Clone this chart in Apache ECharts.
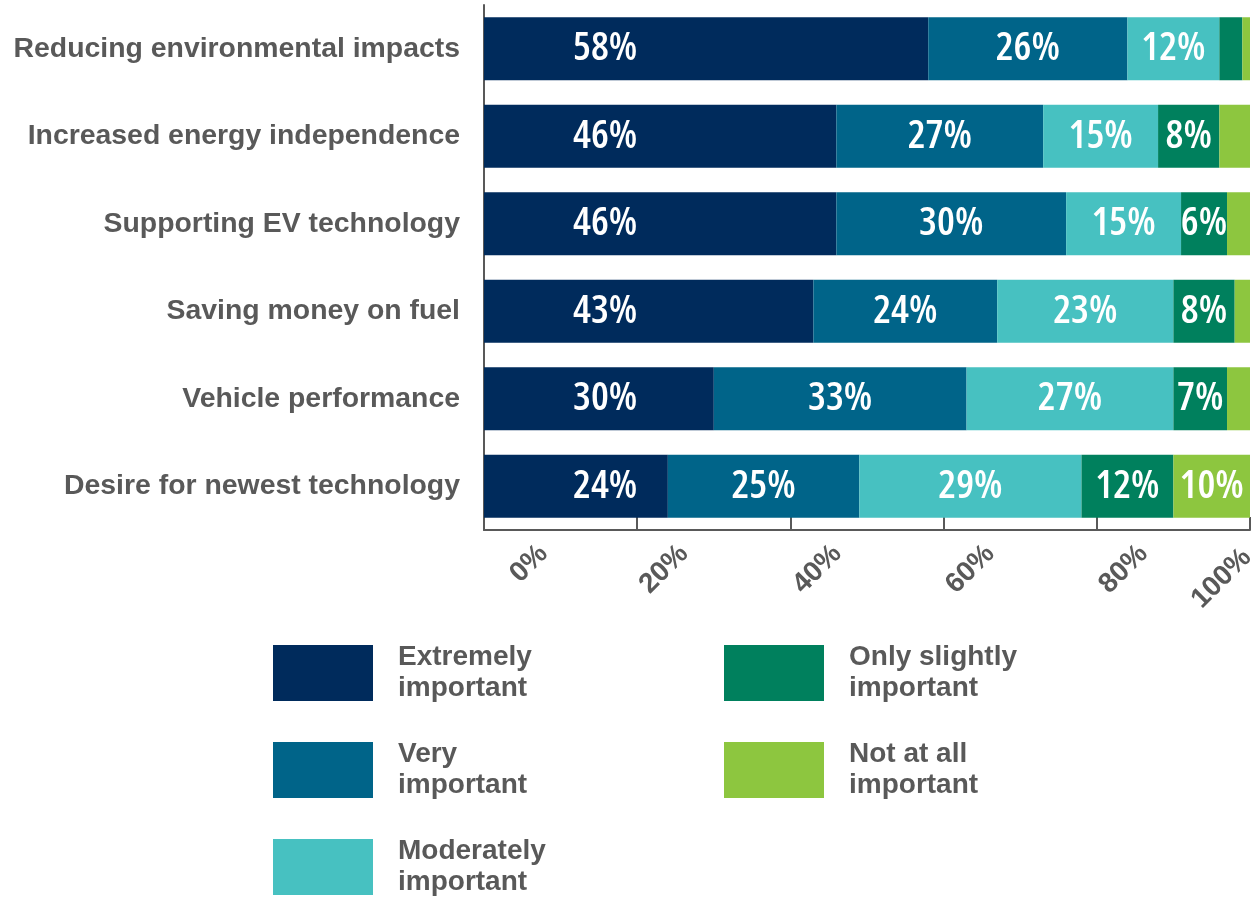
<!DOCTYPE html>
<html>
<head>
<meta charset="utf-8">
<script src="https://cdn.jsdelivr.net/npm/echarts@6/dist/echarts.min.js"></script>
<style>
  html, body { margin: 0; padding: 0; background: #ffffff; }
  #chart { width: 1260px; height: 901px; }
</style>
</head>
<body>
<div id="chart"></div>
<script>
// Survey motivations, share of respondents by importance level (%)
const categories = [
  'Reducing environmental impacts',
  'Increased energy independence',
  'Supporting EV technology',
  'Saving money on fuel',
  'Vehicle performance',
  'Desire for newest technology'
];
const extremelyImportant = [58, 46, 46, 43, 30, 24];
const veryImportant      = [26, 27, 30, 24, 33, 25];
const moderatelyImportant = [12, 15, 15, 23, 27, 29];
const onlySlightlyImportant = [3, 8, 6, 8, 7, 12];
const notAtAllImportant  = [1, 4, 3, 2, 3, 10];
const xTickValues = [0, 20, 40, 60, 80, 100];

const seriesNames = [
  'Extremely important',
  'Very important',
  'Moderately important',
  'Only slightly important',
  'Not at all important'
];
const seriesData = [extremelyImportant, veryImportant, moderatelyImportant, onlySlightlyImportant, notAtAllImportant];
const colors = ['#002b5c', '#006489', '#47c1c1', '#00805d', '#8dc63f'];

const GRAY = '#595959';
const SANS = "'Liberation Sans', Arial, sans-serif";

// in-bar value labels use the condensed width of Open Sans
// (the stretch keyword rides along in the weight slot of the canvas font string)
const VALUE_FONT = "'Open Sans', 'DejaVu Sans Condensed', sans-serif";
const VALUE_WEIGHT = '600 condensed';

const axisTickFont = { fontFamily: SANS, fontSize: 28, fontWeight: 'bold', color: GRAY };

const chart = echarts.init(document.getElementById('chart'), null, { renderer: 'canvas' });

const series = seriesNames.map((name, i) => ({
  name: name,
  type: 'bar',
  stack: 'total',
  barWidth: 63,
  itemStyle: { color: colors[i] },
  emphasis: { disabled: true },
  label: {
    show: true,
    position: i === 0 ? 'insideLeft' : 'inside',
    distance: i === 0 ? 89 : 5,
    color: '#ffffff',
    fontFamily: VALUE_FONT,
    fontWeight: VALUE_WEIGHT,
    fontSize: 40,
    formatter: p => (p.value >= 5 ? p.value + '%' : '')
  },
  data: seriesData[i]
}));

chart.setOption({
  backgroundColor: '#ffffff',
  animation: false,
  grid: { left: 484, right: 10, top: 5, bottom: 371, containLabel: false },
  xAxis: {
    type: 'value',
    min: xTickValues[0],
    max: xTickValues[xTickValues.length - 1],
    interval: xTickValues[1] - xTickValues[0],
    splitLine: { show: false },
    axisLine: { show: true, lineStyle: { color: GRAY, width: 2 } },
    axisTick: { show: true, inside: true, length: 13, lineStyle: { color: GRAY, width: 2 } },
    axisLabel: {
      rotate: 45,
      margin: 66,
      padding: [0, -75, 0, 0],
      fontFamily: SANS,
      fontSize: 28,
      fontWeight: 'bold',
      color: GRAY,
      formatter: v => {
        const key = v === xTickValues[0] ? 'lo' : (v === xTickValues[xTickValues.length - 1] ? 'hi' : 'mid');
        return '{' + key + '|' + v + '%}';
      },
      rich: {
        mid: Object.assign({ padding: [0, 9, 0, 0] }, axisTickFont),
        lo: Object.assign({ padding: [18, 0, 0, 0] }, axisTickFont),
        hi: Object.assign({ padding: [0, 47, 65, 0] }, axisTickFont)
      }
    }
  },
  yAxis: {
    type: 'category',
    inverse: true,
    data: categories,
    axisLine: { show: true, lineStyle: { color: GRAY, width: 2 } },
    axisTick: { show: false },
    axisLabel: {
      margin: 24,
      padding: [4, 0, 0, 0],
      fontFamily: SANS,
      fontSize: 28.4,
      fontWeight: 'bold',
      color: GRAY
    }
  },
  legend: {
    orient: 'vertical',
    left: 273,
    top: 642,
    height: 270,
    padding: 0,
    itemGap: 35,
    itemWidth: 100,
    itemHeight: 56,
    icon: 'rect',
    selectedMode: false,
    data: seriesNames,
    formatter: name => {
      const k = name.lastIndexOf(' ');
      return name.slice(0, k) + '\n' + name.slice(k + 1);
    },
    textStyle: {
      fontFamily: SANS,
      fontSize: 28,
      fontWeight: 'bold',
      color: GRAY,
      lineHeight: 31,
      width: 291,
      padding: [0, 0, 0, 20]
    }
  },
  tooltip: { show: false },
  series: series
});
</script>
</body>
</html>
